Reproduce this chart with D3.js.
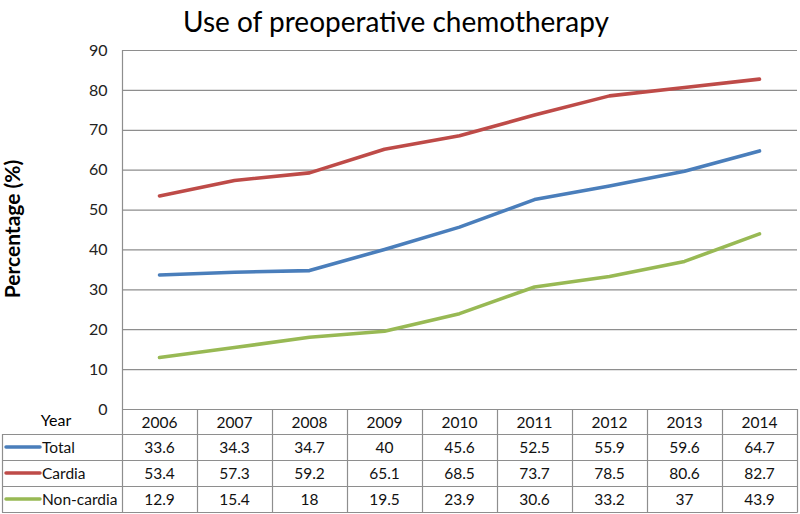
<!DOCTYPE html>
<html><head><meta charset="utf-8">
<script src="https://cdn.jsdelivr.net/npm/d3@7/dist/d3.min.js"></script>
<style>body{margin:0;background:#fff;}svg{display:block;font-family:Lato,"Open Sans",sans-serif;}</style>
</head><body>
<svg id="c" width="800" height="514"></svg>
<script>
const years = ["2006","2007","2008","2009","2010","2011","2012","2013","2014"];
const totalValues = [33.6,34.3,34.7,40,45.6,52.5,55.9,59.6,64.7];
const cardiaValues = [53.4,57.3,59.2,65.1,68.5,73.7,78.5,80.6,82.7];
const nonCardiaValues = [12.9,15.4,18,19.5,23.9,30.6,33.2,37,43.9];
const seriesNames = ["Total","Cardia","Non-cardia"];
const seriesColors = ["#4A7EBB","#BE4B48","#98B954"];
const yTicks = [0,10,20,30,40,50,60,70,80,90];

const series = [totalValues, cardiaValues, nonCardiaValues].map((v,i)=>({name:seriesNames[i], color:seriesColors[i], values:v}));

const svg = d3.select("#c");
const L = 122, R = 797, T = 50, B = 409;
const x = d3.scaleBand().domain(years).range([L,R]);
const y = d3.scaleLinear().domain([0,90]).range([B,T]);
const grid = "#8e8e8e";
const fs = 15.5;

svg.append("text").attr("x",396).attr("y",32).attr("text-anchor","middle")
  .attr("font-size",28).attr("fill","#000").text("Use of preoperative chemotherapy");

// gridlines
svg.append("g").selectAll("line").data(yTicks.filter(d=>d>0)).join("line")
  .attr("x1",L).attr("x2",R).attr("y1",d=>y(d)+0.5).attr("y2",d=>y(d)+0.5)
  .attr("stroke",grid).attr("stroke-width",1.2);

// y axis
const ya = svg.append("g").attr("transform",`translate(${L+0.5},0)`)
  .call(d3.axisLeft(y).tickValues(yTicks).tickSize(0).tickPadding(15));
ya.select(".domain").remove();
ya.selectAll("text").attr("font-size",16).attr("font-family","Lato,'Open Sans',sans-serif").attr("fill","#222");

svg.append("text").attr("transform","translate(20,229) rotate(-90)").attr("text-anchor","middle")
  .attr("font-size",21).attr("font-weight","bold").text("Percentage (%)");

// table
const rowH = [409,434,460,486,512];
const tb = svg.append("g");
tb.selectAll("line.v").data(d3.range(years.length+1)).join("line").attr("class","v")
  .attr("x1",i=> (i===years.length? R : x(years[i])) + 0.5).attr("x2",i=> (i===years.length? R : x(years[i])) + 0.5)
  .attr("y1",i=> i===0 ? T : B).attr("y2",512.5).attr("stroke",grid).attr("stroke-width",1.2);
tb.append("line").attr("x1",2.5).attr("x2",2.5).attr("y1",434).attr("y2",512.5).attr("stroke",grid).attr("stroke-width",1.2);
rowH.forEach((h,i)=>{
  tb.append("line").attr("x1", i===0 ? L : 2).attr("x2",R+0.5).attr("y1",h+0.5).attr("y2",h+0.5).attr("stroke",grid).attr("stroke-width",1.2);
});
tb.selectAll("text.yr").data(years).join("text").attr("class","yr")
  .attr("x",d=>x(d)+x.bandwidth()/2).attr("y",(409+434)/2+6).attr("text-anchor","middle")
  .attr("font-size",fs).attr("fill","#111").text(d=>d);
tb.append("text").attr("x",56).attr("y",426).attr("text-anchor","middle").attr("font-size",16).text("Year");

series.forEach((s,si)=>{
  const cy = (rowH[si+1]+rowH[si+2])/2;
  tb.append("line").attr("x1",6).attr("x2",40).attr("y1",cy).attr("y2",cy)
    .attr("stroke",s.color).attr("stroke-width",3.5).attr("stroke-linecap","round");
  tb.append("text").attr("x",42).attr("y",cy+5.5).attr("font-size",fs).attr("fill","#111").text(s.name);
  tb.selectAll(null).data(s.values).join("text")
    .attr("x",(d,i)=>x(years[i])+x.bandwidth()/2).attr("y",cy+5.5).attr("text-anchor","middle")
    .attr("font-size",fs).attr("fill","#111").text(d=>d);
});

const line = d3.line().x((d,i)=>x(years[i])+x.bandwidth()/2).y(d=>y(d));
svg.append("g").selectAll("path").data(series).join("path")
  .attr("d",d=>line(d.values)).attr("fill","none").attr("stroke",d=>d.color)
  .attr("stroke-width",3.6).attr("stroke-linecap","round").attr("stroke-linejoin","round");
</script>
</body></html>
